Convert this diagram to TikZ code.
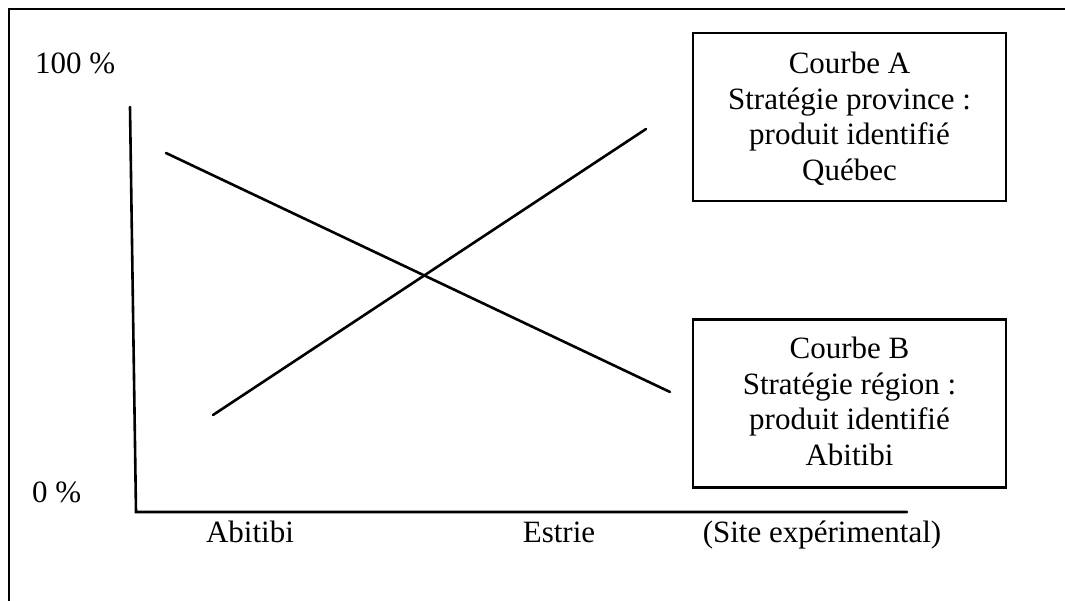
\documentclass[tikz,border=0pt]{standalone}
\usepackage{fontspec}
\setmainfont{Liberation Serif}
\begin{document}
\begin{tikzpicture}[x=1pt,y=-1pt,
  ink/.style={line width=2.6pt,line cap=round,line join=miter},
  lbl/.style={inner sep=0pt,font=\fontsize{31}{35.5}\selectfont},
  legendbox/.style={draw,line width=2.4pt,minimum width=313pt,minimum height=168pt,inner sep=0pt},
  legendtext/.style={lbl,align=center,anchor=north}]
\useasboundingbox (0,0) rectangle (1065,601);

% outer frame (runs past the page edge on the right and at the bottom)
\coordinate (fTL) at (9,9);
\coordinate (fTR) at (1070,9);
\coordinate (fBL) at (9,606);
\draw[line width=2.4pt] (fBL) -- (fTL) -- (fTR);

% axes
\coordinate (ytop) at (130,107);
\coordinate (origin) at (136,512);
\coordinate (xend) at (907,512);
\draw[ink] (ytop) -- (origin) -- (xend);

% curves
\coordinate (a0) at (213,415);
\coordinate (a1) at (646,129);
\coordinate (b0) at (166,153);
\coordinate (b1) at (670,392);
\draw[ink] (a0) -- (a1);
\draw[ink] (b0) -- (b1);

% axis labels
\node[lbl,anchor=base west] (ymax) at (35,74) {100 \%};
\node[lbl,anchor=base west] (ymin) at (32,502) {0 \%};
\node[lbl,anchor=base] (xa) at (250,542) {Abitibi};
\node[lbl,anchor=base] (xe) at (559,542) {Estrie};
\node[lbl,anchor=base] (xs) at (822,542) {(Site expérimental)};

% legend boxes
\node[legendbox] (boxA) at (849.5,117) {};
\node[legendtext] (txtA) at (849.5,51.8) {Courbe A\\Stratégie province :\\produit identifié\\Québec};
\node[legendbox] (boxB) at (849.5,403.5) {};
\node[legendtext] (txtB) at (849.5,336.8) {Courbe B\\Stratégie région :\\produit identifié\\Abitibi};
\end{tikzpicture}
\end{document}
